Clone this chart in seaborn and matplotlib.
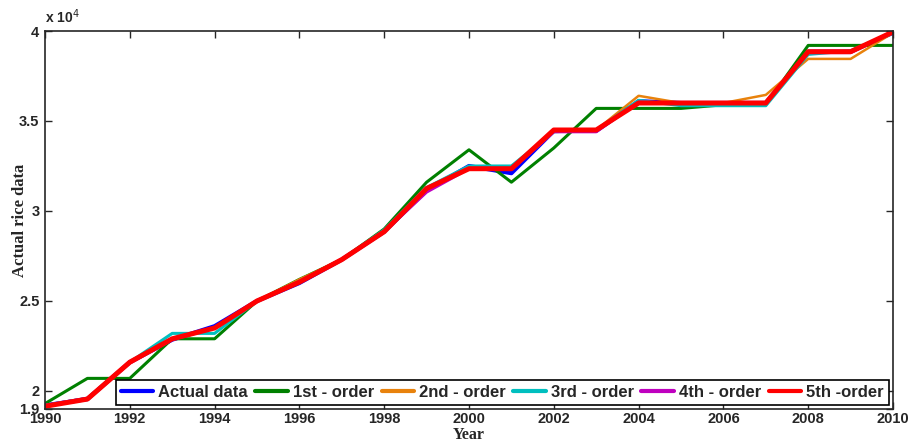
import numpy as np
import pandas as pd
import matplotlib
matplotlib.use("Agg")
import matplotlib.pyplot as plt
import seaborn as sns

years = list(range(1990, 2011))

actual = [19200, 19550, 21600, 22850, 23600, 25000, 26000, 27300, 28850, 31150, 32500,
          32100, 34450, 34450, 36100, 36000, 36000, 36000, 38850, 38850, 39900]
order1 = [19300, 20700, 20700, 22900, 22900, 25000, 26200, 27300, 29000, 31600, 33400,
          31600, 33500, 35700, 35700, 35700, 35900, 35900, 39200, 39200, 39200]
order2 = [19200, 19600, 21600, 22850, 23500, 25000, 26200, 27300, 28900, 31200, 32400,
          32300, 34400, 34500, 36400, 36000, 36000, 36450, 38450, 38450, 39900]
order3 = [19200, 19600, 21600, 23200, 23200, 25000, 26100, 27300, 28950, 31300, 32500,
          32500, 34400, 34500, 36150, 35850, 35850, 35850, 38700, 38900, 39900]
order4 = [19200, 19600, 21550, 22850, 23500, 25000, 26050, 27300, 28850, 31050, 32350,
          32300, 34400, 34400, 36050, 36000, 36000, 36000, 38800, 38800, 39950]
order5 = [19150, 19550, 21600, 22900, 23500, 25000, 26050, 27300, 28850, 31250, 32350,
          32350, 34500, 34500, 36000, 36000, 36000, 36000, 38850, 38850, 39950]

labels = ["Actual data", "1st - order", "2nd - order", "3rd - order", "4th - order", "5th -order"]
colors = ["#0000ff", "#008000", "#e8820c", "#00bfbf", "#bf00bf", "#ff0000"]
widths = [3.0, 2.2, 1.8, 2.2, 2.2, 3.6]

series = [actual, order1, order2, order3, order4, order5]
df = pd.concat([pd.DataFrame({"Year": years, "Value": s, "Model": lab})
                for s, lab in zip(series, labels)], ignore_index=True)

sns.set_style("ticks")
fig = plt.figure(figsize=(9.09, 4.41), dpi=100)
ax = fig.add_axes([0.0495, 0.0726, 0.9329, 0.8571])

for lab, col, lw in zip(labels, colors, widths):
    sns.lineplot(data=df[df["Model"] == lab], x="Year", y="Value", color=col,
                 linewidth=lw, label=lab, ax=ax, legend=False)

ax.set_xlim(1990, 2010)
ax.set_ylim(19000, 40000)
ax.set_xticks(range(1990, 2011, 2))
ax.set_yticks([19000, 20000, 25000, 30000, 35000, 40000])
ax.set_yticklabels(["1.9", "2", "2.5", "3", "3.5", "4"])
for lbl in ax.get_xticklabels() + ax.get_yticklabels():
    lbl.set_fontweight("bold")
    lbl.set_fontfamily("Liberation Sans")
ax.tick_params(direction="in", top=True, right=True, labelsize=10.5, length=5, width=1, pad=4)
ax.tick_params(axis="x", pad=2)
for sp in ax.spines.values():
    sp.set_linewidth(1.2)
    sp.set_visible(True)

ax.set_xlabel("Year", fontfamily="Liberation Serif", fontweight="bold", fontsize=11.5)
ax.xaxis.set_label_coords(0.5, -0.047)
ax.set_ylabel("Actual rice data", fontfamily="Liberation Serif", fontweight="bold", fontsize=12)
ax.yaxis.set_label_coords(-0.02, 0.5)
ax.text(0.0, 1.012, r"x 10$^{4}$", transform=ax.transAxes, fontfamily="Liberation Sans",
        fontweight="bold", fontsize=10, ha="left", va="bottom")

leg = ax.legend(loc="lower right", ncol=6, frameon=True, fancybox=False, edgecolor="black",
                prop={"family": "Liberation Sans", "weight": "bold", "size": 12},
                handlelength=1.95, handletextpad=0.3, columnspacing=0.45,
                borderaxespad=0.25, borderpad=0.3, framealpha=1)
leg.get_frame().set_linewidth(1.2)
for h in leg.get_lines():
    h.set_linewidth(3)

fig.savefig("out.png", dpi=100)
